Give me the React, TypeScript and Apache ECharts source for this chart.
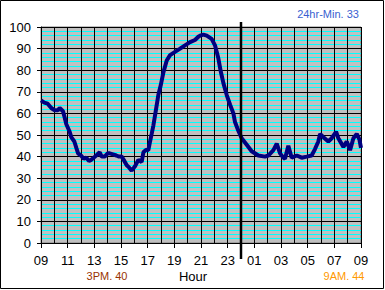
import { useEffect, useRef } from "react";
import * as echarts from "echarts";

// hours since 09:00
const hours = [
  0, 0.25, 0.5, 0.77, 1.0, 1.27, 1.4, 1.65, 1.78, 1.9, 2.15, 2.27, 2.5, 2.65, 2.78,
  3.0, 3.2, 3.4, 3.6, 3.77, 3.95, 4.15, 4.4, 4.55, 4.78, 5.0, 5.15, 5.4, 5.65, 5.85,
  6.05, 6.25, 6.43, 6.6, 6.8, 7.05, 7.3, 7.55, 7.68, 7.85, 8.05, 8.18, 8.3, 8.43,
  8.63, 8.8, 8.98, 9.18, 9.43, 9.68, 10.05, 10.43, 10.8, 11.18, 11.55, 11.8, 11.93,
  12.18, 12.43, 12.8, 13.05, 13.3, 13.48, 13.68, 13.93, 14.18, 14.43, 14.55, 14.8,
  15.05, 15.43, 15.8, 16.3, 16.8, 17.05, 17.43, 17.68, 17.93, 18.18, 18.3, 18.55,
  18.8, 19.18, 19.55, 19.93, 20.3, 20.55, 20.8, 20.93, 21.18, 21.55, 21.8, 22.13,
  22.3, 22.68, 22.93, 23.18, 23.43, 23.68, 23.88, 24,
];
const values = [
  66, 65, 64.5, 62.5, 61.5, 61.5, 62.5, 61, 58, 55, 51.5, 49, 47, 44, 41.5,
  40.5, 39, 39.5, 38, 38.5, 39.5, 40.5, 42, 40, 40, 41.5, 41.5, 41, 40.5, 40,
  40, 38, 36, 35, 33.5, 35.5, 38.5, 37.5, 42, 43, 43, 47, 50.5, 54.5,
  62, 68.5, 73, 79, 84.5, 87, 88.5, 90, 91.5, 93, 94, 95.5, 96,
  96.5, 96, 94.5, 91.5, 85.5, 79.5, 74, 68.5, 64, 60, 56, 52,
  48.5, 45.5, 42.5, 40.5, 40, 40.5, 43, 46, 41.5, 39.5, 39, 45,
  39.5, 40.5, 39.5, 40, 40.5, 43.5, 47, 50.5, 49, 47, 48.5, 51.5,
  48.5, 44.5, 47, 43, 48.5, 50.5, 48, 44,
];
const xTickLabels = ["09", "11", "13", "15", "17", "19", "21", "23", "01", "03", "05", "07", "09"];
const midnightHour = [15];
const noteTexts = ["24hr-Min. 33", "3PM. 40", "9AM. 44"];
const axisTitle = ["Hour"];

export default function App() {
  const ref = useRef<HTMLDivElement>(null);
  useEffect(() => {
    if (!ref.current) return;
    const chart = echarts.init(ref.current, null, { renderer: "svg" });
    const font = "'Liberation Sans', Arial, sans-serif";
    chart.setOption({
      animation: false,
      backgroundColor: "#ffffff",
      grid: {
        left: 41,
        right: 24,
        top: 27,
        bottom: 47,
        show: true,
        backgroundColor: "#c0c0c0",
        borderColor: "#808080",
        borderWidth: 1,
      },
      xAxis: {
        type: "value",
        min: 0,
        max: 24,
        interval: 2,
        z: 1,
        axisLine: { show: true, lineStyle: { color: "#000", width: 1 } },
        axisTick: { show: true, length: 5, lineStyle: { color: "#000" } },
        axisLabel: {
          margin: 11,
          fontFamily: font,
          fontSize: 13,
          color: "#000",
          formatter: (v: number) => xTickLabels[Math.round(v / 2)] ?? "",
        },
        splitLine: { show: true, lineStyle: { color: "#000", width: 1 } },
        minorTick: { show: false, splitNumber: 2 },
        minorSplitLine: { show: true, lineStyle: { color: "#000", width: 1 } },
      },
      yAxis: {
        type: "value",
        min: 0,
        max: 100,
        interval: 10,
        z: 0,
        axisLine: { show: true, lineStyle: { color: "#000", width: 1 } },
        axisTick: { show: true, length: 4, lineStyle: { color: "#000" } },
        axisLabel: { margin: 10, fontFamily: font, fontSize: 13, color: "#000" },
        splitLine: { show: true, lineStyle: { color: "#000", width: 1 } },
        minorTick: { show: false, splitNumber: 5 },
        minorSplitLine: { show: true, lineStyle: { color: "#00ffff", width: 1 } },
      },
      series: [
        {
          type: "line",
          data: hours.map((h, i) => [h, values[i]]),
          showSymbol: false,
          symbol: "none",
          lineStyle: { color: "#000080", width: 4 },
          z: 5,
        },
      ],
    });
    const [mx] = chart.convertToPixel({ gridIndex: 0 }, [midnightHour[0], 0]) as number[];
    chart.setOption({
      graphic: [
        {
          type: "rect",
          shape: { x: 0.5, y: 0.5, width: 383, height: 288 },
          style: { fill: "none", stroke: "#000", lineWidth: 1 },
          silent: true,
        },
        {
          type: "line",
          shape: { x1: mx, y1: 22, x2: mx, y2: 259 },
          style: { stroke: "#000", lineWidth: 2.5 },
          z: 10,
        },
        {
          type: "text",
          x: 328,
          y: 14,
          style: {
            text: noteTexts[0],
            fill: "#3a5fd0",
            font: `11px ${font}`,
            align: "center",
            verticalAlign: "middle",
          },
        },
        {
          type: "text",
          x: 107,
          y: 276,
          style: {
            text: noteTexts[1],
            fill: "#993300",
            font: `11px ${font}`,
            align: "center",
            verticalAlign: "middle",
          },
        },
        {
          type: "text",
          x: 344,
          y: 276,
          style: {
            text: noteTexts[2],
            fill: "#ff9900",
            font: `11px ${font}`,
            align: "center",
            verticalAlign: "middle",
          },
        },
        {
          type: "text",
          x: 193,
          y: 276,
          style: {
            text: axisTitle[0],
            fill: "#000",
            font: `13px ${font}`,
            align: "center",
            verticalAlign: "middle",
          },
        },
      ],
    });
    return () => chart.dispose();
  }, []);
  return (
    <div
      ref={ref}
      style={{ position: "fixed", left: 0, top: 0, width: 385, height: 290 }}
    />
  );
}
